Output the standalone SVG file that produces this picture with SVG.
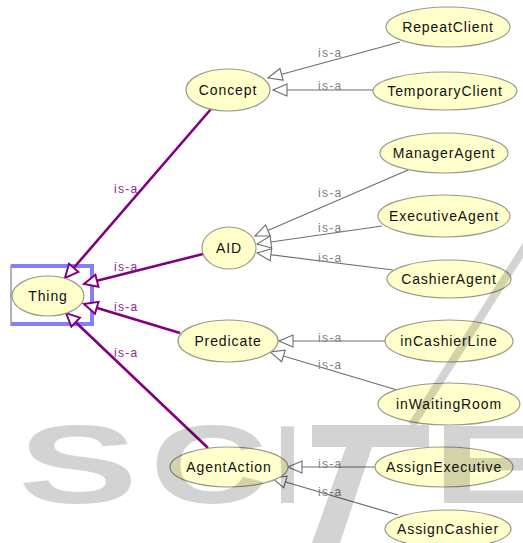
<svg xmlns="http://www.w3.org/2000/svg" width="523" height="543" viewBox="0 0 523 543">
<style>
.node ellipse{fill:#ffffcc;stroke:#9a9a8a;stroke-width:1.2}
.node text{font-family:"Liberation Sans",Arial,sans-serif;font-size:14px;letter-spacing:0.9px;fill:#111;text-anchor:middle}
.sub{stroke:#6e6e6e;stroke-width:1.2;fill:none;marker-end:url(#tri)}
.top{stroke:#800080;stroke-width:2.6;fill:none;marker-end:url(#ptri)}
.lg{font-family:"Liberation Sans",Arial,sans-serif;font-size:12px;letter-spacing:1.3px;fill:#808080}
.lp{font-family:"Liberation Sans",Arial,sans-serif;font-size:12px;letter-spacing:1.3px;fill:#8a2a8a}
.wm{font-family:"Liberation Sans",Arial,sans-serif;font-weight:bold;font-size:112px;fill:#000}
</style>
<defs>
<marker id="tri" markerUnits="userSpaceOnUse" markerWidth="16" markerHeight="14" refX="14" refY="6" orient="auto" viewBox="-1 -1 16 14">
<path d="M0,0 L14,6 L0,12 z" fill="#fff" stroke="#6e6e6e" stroke-width="1.1"/>
</marker>
<marker id="ptri" markerUnits="userSpaceOnUse" markerWidth="18" markerHeight="16" refX="15" refY="7" orient="auto" viewBox="-2 -2 19 18">
<path d="M0,0 L15,7 L0,14 z" fill="#fff" stroke="#800080" stroke-width="2.2"/>
</marker>
</defs>
<rect width="523" height="543" fill="#fff"/>

<g id="selection">
<path d="M11,266 L92,266 L92,324 L11,324" fill="none" stroke="#8080ff" stroke-width="4"/>
<line x1="11" y1="265" x2="11" y2="326" stroke="#999" stroke-width="1.5"/>
</g>

<g id="connectors">
<line class="top" x1="211" y1="109" x2="65" y2="278"/>
<line class="top" x1="203" y1="254" x2="84" y2="284"/>
<line class="top" x1="180" y1="333" x2="84" y2="304"/>
<line class="top" x1="208" y1="448" x2="66" y2="313"/>
<text class="lp" x="114" y="193">is-a</text>
<text class="lp" x="114" y="271">is-a</text>
<text class="lp" x="114" y="311">is-a</text>
<text class="lp" x="114" y="357">is-a</text>

<line class="sub" x1="400" y1="42" x2="268" y2="78"/>
<line class="sub" x1="373" y1="90" x2="273" y2="90"/>
<line class="sub" x1="408" y1="170" x2="255" y2="236"/>
<line class="sub" x1="382" y1="226" x2="257" y2="244"/>
<line class="sub" x1="393" y1="270" x2="257" y2="253"/>
<line class="sub" x1="385" y1="341" x2="279" y2="341"/>
<line class="sub" x1="397" y1="390" x2="270" y2="352"/>
<line class="sub" x1="375" y1="467" x2="288" y2="467"/>
<line class="sub" x1="398" y1="515" x2="272" y2="478"/>
<text class="lg" x="318" y="57">is-a</text>
<text class="lg" x="318" y="90">is-a</text>
<text class="lg" x="318" y="197">is-a</text>
<text class="lg" x="318" y="232">is-a</text>
<text class="lg" x="318" y="262">is-a</text>
<text class="lg" x="318" y="342">is-a</text>
<text class="lg" x="318" y="369">is-a</text>
<text class="lg" x="318" y="468">is-a</text>
<text class="lg" x="318" y="496">is-a</text>
</g>

<g id="Thing" class="node"><ellipse cx="48" cy="296" rx="36" ry="20"/><text x="48" y="301">Thing</text></g>
<g id="Concept" class="node"><ellipse cx="228" cy="90" rx="42" ry="21"/><text x="228" y="95">Concept</text></g>
<g id="RepeatClient" class="node"><ellipse cx="448" cy="27" rx="62" ry="20"/><text x="448" y="32">RepeatClient</text></g>
<g id="TemporaryClient" class="node"><ellipse cx="445" cy="91" rx="72" ry="19"/><text x="445" y="96">TemporaryClient</text></g>
<g id="AID" class="node"><ellipse cx="229" cy="248" rx="27" ry="21"/><text x="229" y="253">AID</text></g>
<g id="ManagerAgent" class="node"><ellipse cx="444" cy="153" rx="64" ry="20"/><text x="444" y="158">ManagerAgent</text></g>
<g id="ExecutiveAgent" class="node"><ellipse cx="444" cy="216" rx="66" ry="21"/><text x="444" y="221">ExecutiveAgent</text></g>
<g id="CashierAgent" class="node"><ellipse cx="449" cy="279" rx="62" ry="19"/><text x="449" y="284">CashierAgent</text></g>
<g id="Predicate" class="node"><ellipse cx="228" cy="341" rx="50" ry="21"/><text x="228" y="346">Predicate</text></g>
<g id="inCashierLine" class="node"><ellipse cx="449" cy="341" rx="64" ry="21"/><text x="449" y="346">inCashierLine</text></g>
<g id="inWaitingRoom" class="node"><ellipse cx="449" cy="404" rx="71" ry="21"/><text x="449" y="409">inWaitingRoom</text></g>
<g id="AgentAction" class="node"><ellipse cx="229" cy="467" rx="59" ry="20"/><text x="229" y="472">AgentAction</text></g>
<g id="AssignExecutive" class="node"><ellipse cx="444" cy="467" rx="69" ry="20"/><text x="444" y="472">AssignExecutive</text></g>
<g id="AssignCashier" class="node"><ellipse cx="448" cy="529" rx="63" ry="19"/><text x="448" y="534">AssignCashier</text></g>

<g id="watermark" opacity="0.17">
<text class="wm" x="18" y="503" textLength="120" lengthAdjust="spacingAndGlyphs">S</text>
<text class="wm" x="150" y="503" textLength="118" lengthAdjust="spacingAndGlyphs">C</text>
<text class="wm" x="275" y="503" textLength="25" lengthAdjust="spacingAndGlyphs">I</text>
<rect x="312" y="425" width="117" height="22" fill="#000"/>
<polygon points="346,447 372,447 340,543 312,543" fill="#000"/>
<line x1="527" y1="244" x2="412" y2="425" stroke="#000" stroke-width="8"/>
<text class="wm" x="432" y="503" textLength="120" lengthAdjust="spacingAndGlyphs">E</text>
</g>
</svg>
